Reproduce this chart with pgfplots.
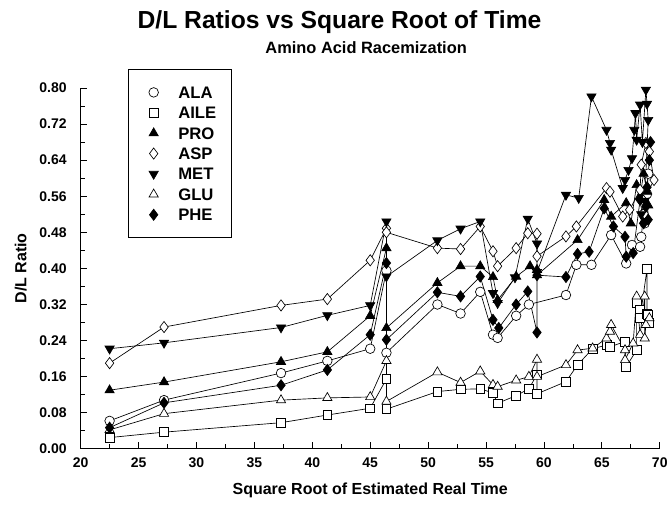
\documentclass[border=0pt]{standalone}
\usepackage{fontspec}
\setmainfont{Liberation Sans}
\usepackage{pgfplots}
\pgfplotsset{compat=1.18}

\begin{document}
\begin{tikzpicture}
\begin{axis}[
    scale only axis,
    width=434.5pt, height=270.75pt,
    xmin=20, xmax=70, ymin=0, ymax=0.8,
    clip=false,
    axis x line*=bottom, axis y line*=left,
    axis line style={-, line width=0.6pt},
    tick align=inside,
    major tick length=5pt, minor tick length=3.5pt,
    tick style={line width=0.6pt, black},
    xtick={20,25,30,35,40,45,50,55,60,65,70}, minor x tick num=1,
    ytick={0,0.08,0.16,0.24,0.32,0.40,0.48,0.56,0.64,0.72,0.80}, minor y tick num=1,
    /pgf/number format/assume math mode=true,
    tick label style={font=\bfseries\fontsize{10.5}{12}\selectfont},
    xticklabel style={yshift=-3pt},
    yticklabel style={xshift=-7pt, /pgf/number format/.cd, fixed, fixed zerofill, precision=2},
    xlabel={Square Root of Estimated Real Time},
    ylabel={D/L Ratio},
    label style={font=\bfseries\fontsize{12}{14}\selectfont},
    xlabel style={at={(rel axis cs:0.5,0)}, anchor=center, yshift=-31pt},
    ylabel style={at={(rel axis cs:0,0.5)}, anchor=center, yshift=45pt},
    every axis plot/.append style={line width=0.5pt, black},
    legend style={at={(rel axis cs:0.0817,1.0526)}, anchor=north west, draw=black,
        line width=0.6pt, font=\bfseries\fontsize{12.5}{14}\selectfont,
        inner xsep=11pt, inner ysep=12.5pt, row sep=5.8pt, column sep=0pt,
        nodes={inner sep=0pt, text height=9pt, text depth=0pt},
        cells={anchor=west}},
    legend image code/.code={\path (0pt,-4.5pt) (26pt,4.5pt);
        \draw[#1, only marks] plot coordinates {(7.75pt,0pt)};},
]

% ALA
\addplot[mark=*, mark size=3.6pt, mark options={fill=white}] coordinates {
(22.5,0.062)(27.2,0.108)(37.3,0.168)(41.3,0.195)(45.0,0.222)(46.4,0.395)(46.4,0.213)
(50.8,0.320)(52.8,0.300)(54.5,0.348)(55.6,0.253)(56.0,0.246)(57.6,0.295)(58.7,0.320)
(61.9,0.341)(62.8,0.408)(64.1,0.408)(65.8,0.474)(67.1,0.411)(67.6,0.452)(68.3,0.448)
(68.4,0.470)(68.6,0.520)(68.9,0.565)(69.0,0.610)(68.7,0.500)
};
% AILE
\addplot[mark=square*, mark size=3.3pt, mark options={fill=white}] coordinates {
(22.5,0.025)(27.2,0.037)(37.3,0.058)(41.3,0.075)(45.0,0.090)(46.4,0.155)(46.4,0.088)
(50.8,0.127)(52.8,0.132)(54.5,0.133)(55.6,0.124)(56.0,0.101)(57.6,0.118)(58.7,0.133)
(59.4,0.165)(59.4,0.122)(61.9,0.149)(62.9,0.186)(64.2,0.222)(65.4,0.230)(65.7,0.226)
(67.0,0.238)(67.1,0.182)(68.0,0.219)(68.0,0.323)(68.3,0.308)(68.3,0.290)(68.9,0.399)
(68.9,0.300)(69.0,0.297)(69.1,0.280)
};
% PRO
\addplot[mark=triangle*, mark size=4pt, mark options={fill=black}] coordinates {
(22.5,0.130)(27.2,0.148)(37.3,0.193)(41.3,0.215)(45.0,0.295)(46.4,0.445)(46.4,0.268)
(50.8,0.368)(52.8,0.405)(54.5,0.405)(55.6,0.381)(56.0,0.330)(57.6,0.382)(58.8,0.405)
(59.4,0.397)(59.4,0.385)(62.9,0.463)(65.2,0.552)(65.8,0.515)(67.1,0.545)(67.5,0.500)
(68.0,0.585)(68.3,0.559)(68.6,0.610)(68.9,0.570)(69.0,0.540)
};
% ASP
\addplot[mark=diamond*, mark size=4.2pt, mark options={fill=white}] coordinates {
(22.5,0.190)(27.2,0.270)(37.3,0.318)(41.3,0.332)(45.0,0.418)(46.4,0.489)(46.4,0.480)
(50.8,0.445)(52.8,0.443)(54.5,0.493)(55.6,0.438)(56.0,0.405)(57.6,0.445)(58.6,0.478)
(59.4,0.477)(59.4,0.427)(61.9,0.471)(62.8,0.493)(65.4,0.578)(65.7,0.570)(66.8,0.515)
(67.4,0.530)(68.3,0.574)(68.4,0.630)(68.8,0.678)(69.1,0.659)(69.5,0.596)(68.6,0.550)
};
% MET
\addplot[mark=triangle*, mark size=4pt, mark options={fill=black, rotate=180}] coordinates {
(22.5,0.222)(27.2,0.235)(37.3,0.269)(41.3,0.296)(45.0,0.318)(46.4,0.504)(46.4,0.382)
(50.8,0.462)(52.8,0.488)(54.5,0.504)(55.6,0.345)(56.0,0.323)(57.5,0.380)(58.6,0.510)
(59.4,0.455)(59.4,0.392)(61.9,0.563)(63.0,0.556)(64.1,0.781)(65.4,0.707)(65.7,0.678)
(65.8,0.663)(66.8,0.578)(67.0,0.596)(67.3,0.618)(67.6,0.644)(67.8,0.707)(67.9,0.744)
(68.0,0.685)(68.3,0.763)(68.5,0.680)(68.8,0.796)(68.9,0.765)(69.0,0.729)(68.7,0.550)
(68.4,0.520)
};
% GLU
\addplot[mark=triangle*, mark size=4pt, mark options={fill=white}] coordinates {
(22.5,0.042)(27.2,0.078)(37.3,0.108)(41.3,0.113)(45.0,0.115)(46.4,0.195)(46.4,0.105)
(50.8,0.170)(52.8,0.147)(54.5,0.172)(55.6,0.142)(56.0,0.138)(57.6,0.152)(58.7,0.160)
(59.4,0.198)(59.4,0.160)(61.9,0.186)(62.9,0.219)(64.2,0.223)(65.4,0.245)(65.7,0.260)
(65.8,0.275)(67.0,0.219)(67.0,0.197)(67.7,0.234)(68.0,0.338)(68.3,0.253)(68.7,0.338)
(68.7,0.245)(68.8,0.275)(69.1,0.290)
};
% PHE
\addplot[mark=diamond*, mark size=4.2pt, mark options={fill=black}] coordinates {
(22.5,0.047)(27.2,0.102)(37.3,0.141)(41.3,0.175)(45.0,0.253)(46.4,0.412)(46.4,0.242)
(50.8,0.347)(52.8,0.338)(54.5,0.382)(55.6,0.286)(56.1,0.268)(57.6,0.320)(58.6,0.349)
(59.4,0.258)(59.4,0.385)(61.9,0.381)(62.9,0.432)(63.9,0.437)(65.2,0.533)(66.0,0.493)
(67.0,0.470)(67.1,0.426)(67.7,0.434)(68.3,0.552)(68.6,0.500)(68.8,0.537)(69.0,0.508)
(68.9,0.580)(69.1,0.640)(69.2,0.680)
};
\legend{ALA, AILE, PRO, ASP, MET, GLU, PHE}

\coordinate (O) at (rel axis cs:0,0);
\node[font=\bfseries\fontsize{18.5}{21}\selectfont, yshift=49.5pt] at (rel axis cs:0.447,1) {D/L Ratios vs Square Root of Time};
\node[font=\bfseries\fontsize{12.3}{14}\selectfont, yshift=30pt] at (rel axis cs:0.493,1) {Amino Acid Racemization};
\end{axis}
\path (O) ++(-60.5pt,-51pt) rectangle ++(504pt,387.75pt);
\end{tikzpicture}
\end{document}
